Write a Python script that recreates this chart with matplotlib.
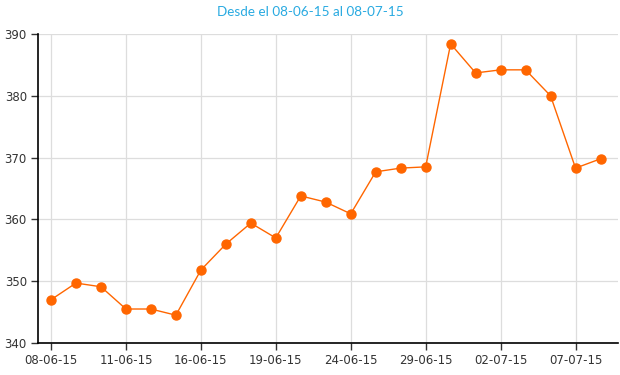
import matplotlib
matplotlib.use("Agg")
import matplotlib.pyplot as plt

dates = ["08-06-15", "09-06-15", "10-06-15", "11-06-15", "12-06-15", "15-06-15",
         "16-06-15", "17-06-15", "18-06-15", "19-06-15", "22-06-15", "23-06-15",
         "24-06-15", "25-06-15", "26-06-15", "29-06-15", "30-06-15", "01-07-15",
         "02-07-15", "03-07-15", "06-07-15", "07-07-15", "08-07-15"]
values = [347.0, 349.7, 349.1, 345.5, 345.5, 344.5, 351.8, 356.0, 359.4, 357.0,
          363.8, 362.8, 360.9, 367.7, 368.3, 368.5, 388.4, 383.7, 384.2, 384.2,
          380.0, 368.3, 369.8]
yticks = [340, 350, 360, 370, 380, 390]

def main():
	fig = plt.figure(figsize=(6.2, 3.75), dpi=100)
	ax = fig.add_axes([38 / 620, 32 / 375, 580 / 620, 309 / 375])

	x = list(range(len(dates)))
	ax.plot(x, values, color="#ff6600", lw=1, marker="o", ms=6.5,
			markerfacecolor="#ff6600", markeredgecolor="#ff6600", zorder=3)

	ax.set_xlim(-0.52, 22.7)
	ax.set_ylim(340, 390)
	ax.set_yticks(yticks)
	ax.set_xticks(x[::3])
	ax.set_xticklabels(dates[::3])
	ax.grid(True, color="#dddddd", lw=0.9)
	ax.set_axisbelow(True)

	for s in ["top", "right"]:
		ax.spines[s].set_visible(False)
	for s in ["left", "bottom"]:
		ax.spines[s].set_color("black")
		ax.spines[s].set_linewidth(1.2)

	ax.tick_params(labelsize=8.5, colors="#333333", length=5, width=1, pad=3)

	fig.suptitle("Desde el 08-06-15 al 08-07-15", color="#29aae1", fontsize=9.7,
				 family="Lato", y=0.985)
	fig.savefig("out.png", dpi=100)

if __name__ == '__main__':
	main()
